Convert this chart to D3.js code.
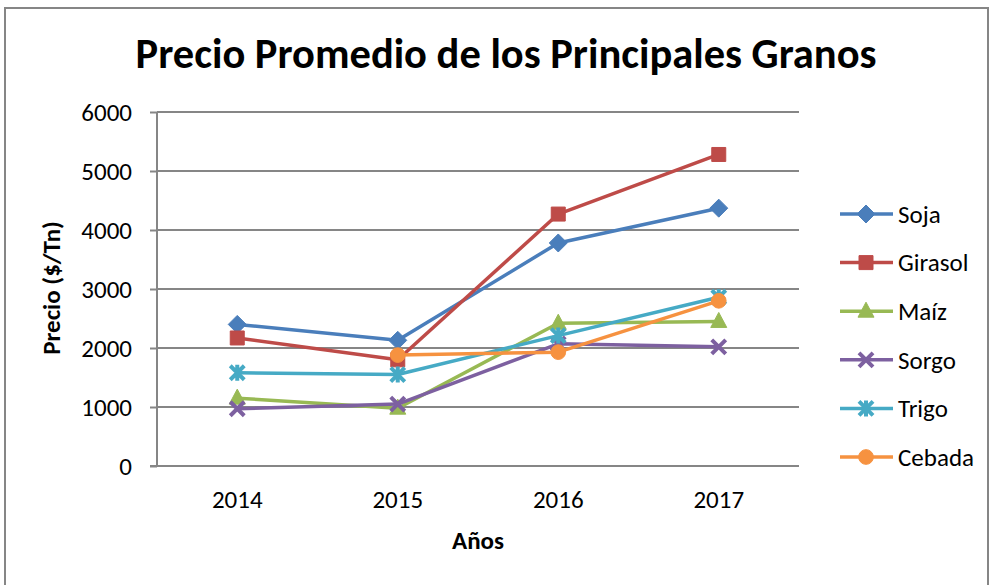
<!DOCTYPE html>
<html>
<head>
<meta charset="utf-8">
<script src="https://cdn.jsdelivr.net/npm/d3@7"></script>
<style>
  body { margin: 0; background: #fff; }
  text { font-family: Carlito, Calibri, Lato, sans-serif; fill: #000; }
</style>
</head>
<body>
<div id="wrapper"></div>
<script>
// Data
const years = ['2014', '2015', '2016', '2017'];
const seriesNames = ['Soja', 'Girasol', 'Maíz', 'Sorgo', 'Trigo', 'Cebada'];
const soja = [2400, 2130, 3780, 4370];
const girasol = [2170, 1800, 4270, 5280];
const maiz = [1150, 980, 2420, 2450];
const sorgo = [970, 1050, 2070, 2020];
const trigo = [1580, 1550, 2210, 2860];
const cebada = [null, 1880, 1930, 2800];
const yTicks = [0, 1000, 2000, 3000, 4000, 5000, 6000];

const seriesValues = [soja, girasol, maiz, sorgo, trigo, cebada];
const colors = ['#4A7EBB', '#BE4B48', '#98B954', '#7D60A0', '#46AAC5', '#F69240'];
const markers = ['diamond', 'square', 'triangle', 'cross', 'star', 'circle'];

// Dimension
const dimension = {width: 993, height: 585,
  margin: {top: 112, bottom: 119, left: 157, right: 194}};
dimension.boundWidth = dimension.width - dimension.margin.left - dimension.margin.right;
dimension.boundHeight = dimension.height - dimension.margin.top - dimension.margin.bottom;

const svg = d3.select('#wrapper').append('svg')
  .attr('width', dimension.width).attr('height', dimension.height);

// chart border
svg.append('rect').attr('x', 5).attr('y', 8).attr('width', 983).attr('height', 600)
  .attr('fill', 'none').attr('stroke', '#868686').attr('stroke-width', 2);

const bounds = svg.append('g')
  .attr('transform', `translate(${dimension.margin.left},${dimension.margin.top})`);

const xScale = d3.scaleBand().domain(years).range([0, dimension.boundWidth]);
const yScale = d3.scaleLinear().domain([0, 6000]).range([dimension.boundHeight, 0]);

// gridlines
bounds.append('g').selectAll('line').data(yTicks.filter(d => d > 0)).join('line')
  .attr('x1', 0).attr('x2', dimension.boundWidth)
  .attr('y1', d => yScale(d)).attr('y2', d => yScale(d))
  .attr('stroke', '#868686').attr('stroke-width', 2);

// y axis
const yAxis = bounds.append('g')
  .call(d3.axisLeft(yScale).tickValues(yTicks).tickFormat(d3.format('d')).tickSize(7).tickPadding(18));
yAxis.select('.domain').attr('stroke', '#868686').attr('stroke-width', 2)
  .attr('d', `M0,0V${dimension.boundHeight}`);
yAxis.selectAll('.tick line').attr('stroke', '#868686').attr('stroke-width', 2);
yAxis.selectAll('.tick text').attr('font-size', 25);

// x axis
const xAxis = bounds.append('g')
  .attr('transform', `translate(0,${dimension.boundHeight})`)
  .call(d3.axisBottom(xScale).tickSize(0).tickPadding(24));
xAxis.select('.domain').attr('stroke', '#868686').attr('stroke-width', 2)
  .attr('d', `M-7,0H${dimension.boundWidth}`);
xAxis.selectAll('.tick text').attr('font-size', 25);

// titles
svg.append('text').attr('x', 506).attr('y', 68).attr('text-anchor', 'middle')
  .attr('font-size', 42.5).attr('font-weight', 'bold')
  .text('Precio Promedio de los Principales Granos');
svg.append('text').attr('x', dimension.margin.left + dimension.boundWidth / 2).attr('y', 549)
  .attr('text-anchor', 'middle').attr('font-size', 25).attr('font-weight', 'bold').text('Años');
svg.append('text').attr('transform', 'translate(60,288) rotate(-90)')
  .attr('text-anchor', 'middle').attr('font-size', 25).attr('font-weight', 'bold')
  .text('Precio ($/Tn)');

// marker shapes
function markerPath(type) {
  switch (type) {
    case 'diamond': return 'M0,-9L9,0L0,9L-9,0Z';
    case 'square': return 'M-7,-7H7V7H-7Z';
    case 'triangle': return 'M0,-9L8,6H-8Z';
    case 'circle': return d3.symbol(d3.symbolCircle, 170)();
    case 'cross': return 'M-7,-7L7,7M7,-7L-7,7';
    case 'star': return 'M-7,-7L7,7M7,-7L-7,7M0,-8V8';
  }
}
function drawMarker(g, type, color) {
  const stroked = type === 'cross' || type === 'star';
  g.append('path').attr('d', markerPath(type))
    .attr('fill', stroked ? 'none' : color)
    .attr('stroke', color).attr('stroke-width', stroked ? 4 : 1);
}

const lineGen = d3.line()
  .defined(d => d.v !== null)
  .x(d => xScale(d.year) + xScale.bandwidth() / 2)
  .y(d => yScale(d.v));

seriesNames.forEach((name, i) => {
  const pts = years.map((y, j) => ({year: y, v: seriesValues[i][j]}));
  const g = bounds.append('g');
  g.append('path').attr('d', lineGen(pts)).attr('fill', 'none')
    .attr('stroke', colors[i]).attr('stroke-width', 3.5).attr('stroke-linejoin', 'round');
  pts.filter(d => d.v !== null).forEach(d => {
    const m = g.append('g')
      .attr('transform', `translate(${xScale(d.year) + xScale.bandwidth() / 2},${yScale(d.v)})`);
    drawMarker(m, markers[i], colors[i]);
  });
});

// legend
const legend = svg.append('g').attr('transform', 'translate(840,214)');
seriesNames.forEach((name, i) => {
  const row = legend.append('g').attr('transform', `translate(0,${i * 48.6})`);
  row.append('line').attr('x1', 0).attr('x2', 53).attr('y1', 0).attr('y2', 0)
    .attr('stroke', colors[i]).attr('stroke-width', 3.5);
  drawMarker(row.append('g').attr('transform', 'translate(26,0)'), markers[i], colors[i]);
  row.append('text').attr('x', 58).attr('y', 0).attr('dy', '0.35em')
    .attr('font-size', 25).text(name);
});
</script>
</body>
</html>
